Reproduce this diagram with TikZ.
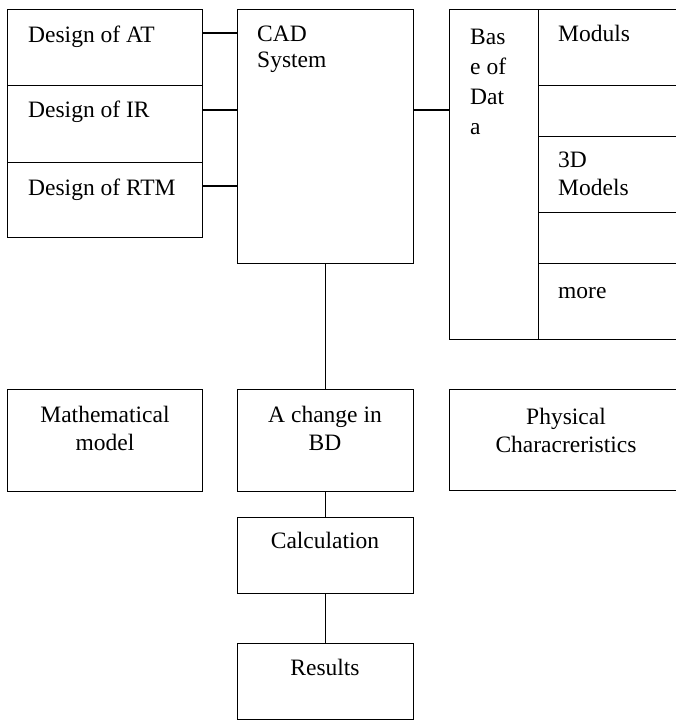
\documentclass[tikz,border=0pt]{standalone}
\usepackage{fontspec}
\setmainfont{Liberation Serif}
\begin{document}
\begin{tikzpicture}[x=1pt,y=-1pt]
\tikzstyle{cell}=[draw,line width=1.4pt,shape=rectangle,anchor=north west,inner sep=0pt]
\tikzstyle{word}=[inner sep=0pt,font=\fontsize{23.5}{28}\selectfont]
\tikzstyle{lword}=[word,anchor=base west,align=left]
\tikzstyle{cword}=[word,anchor=base,align=center]
\tikzstyle{link}=[line width=1.4pt]
\useasboundingbox (0,0) rectangle (676,722);

\path (7,9) node[cell,minimum width=195pt,minimum height=76pt](at){}
  (7,85) node[cell,minimum width=195pt,minimum height=77pt](ir){}
  (7,162) node[cell,minimum width=195pt,minimum height=75pt](rtm){};
\path (237,9) node[cell,minimum width=176pt,minimum height=254pt](cad){};
\path (449,9) node[cell,minimum width=89pt,minimum height=330pt](bd){};
\path (538,9) node[cell,minimum width=150pt,minimum height=76pt](mod){}
  (538,85) node[cell,minimum width=150pt,minimum height=51pt](gapa){}
  (538,136) node[cell,minimum width=150pt,minimum height=76pt](tdm){}
  (538,212) node[cell,minimum width=150pt,minimum height=51pt](gapb){}
  (538,263) node[cell,minimum width=150pt,minimum height=76pt](more){};

\path (7,389) node[cell,minimum width=195pt,minimum height=102pt](math){}
  (237,389) node[cell,minimum width=176pt,minimum height=102pt](chg){}
  (449,389) node[cell,minimum width=240pt,minimum height=101pt](phys){};
\path (237,517) node[cell,minimum width=176pt,minimum height=76pt](calc){}
  (237,643) node[cell,minimum width=176pt,minimum height=76pt](res){};

\path (28,43) node[lword](attxt){Design of AT}
  (28,118) node[lword](irtxt){Design of IR}
  (28,195) node[lword](rtmtxt){Design of RTM}
  (257,68) node[lword,font=\fontsize{23.5}{26.5}\selectfont](cadtxt){CAD\\System}
  (470,135) node[lword,font=\fontsize{23.5}{30.3}\selectfont](bdtxt){Bas\\e of\\Dat\\a}
  (558,42) node[lword](modtxt){Moduls}
  (558,195) node[lword](tdmtxt){3D\\Models}
  (558,298) node[lword](moretxt){more};
\path (105,450) node[cword](mathtxt){Mathematical\\model}
  (325,450) node[cword](chgtxt){A change in\\BD}
  (566,452) node[cword](phystxt){Physical\\Characreristics}
  (325,548) node[cword](calctxt){Calculation}
  (325,675) node[cword](restxt){Results};

\draw[link] ([yshift=-24pt]at.north east) -- ([yshift=-24pt]at.north east -| cad.west);
\draw[link] ([yshift=-25pt]ir.north east) -- ([yshift=-25pt]ir.north east -| cad.west);
\draw[link] ([yshift=-24pt]rtm.north east) -- ([yshift=-24pt]rtm.north east -| cad.west);
\draw[link] ([yshift=-101pt]cad.north east) -- ([yshift=-101pt]cad.north east -| bd.west);
\draw[link] (cad) -- (chg);
\draw[link] (chg) -- (calc);
\draw[link] (calc) -- (res);
\end{tikzpicture}
\end{document}
